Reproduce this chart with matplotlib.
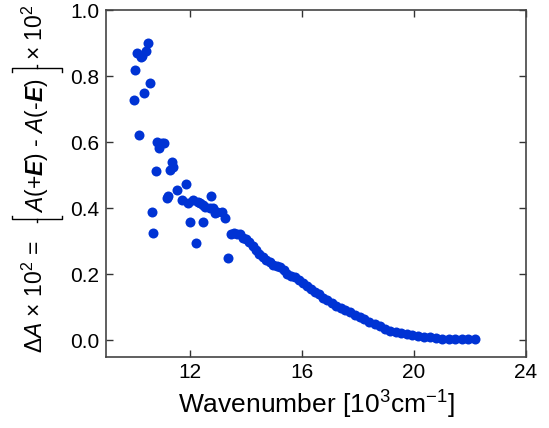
import matplotlib
matplotlib.use("Agg")
import matplotlib.pyplot as plt
from matplotlib.lines import Line2D

plt.rcParams['font.family'] = ['Liberation Sans', 'DejaVu Sans']
plt.rcParams['mathtext.fontset'] = 'custom'
plt.rcParams['mathtext.rm'] = 'Liberation Sans'
plt.rcParams['mathtext.it'] = 'Liberation Sans:italic'
plt.rcParams['mathtext.bf'] = 'Liberation Sans:bold'
plt.rcParams['mathtext.bfit'] = 'Liberation Sans:bold:italic'

# ---- data (wavenumber in 10^3 cm^-1, dA x 10^2) ----
wavenumber = [
    10.00, 10.04, 10.10, 10.18, 10.24, 10.30, 10.36, 10.43, 10.51, 10.57,
    10.63, 10.69, 10.78, 10.83, 10.90, 10.99, 11.07, 11.17, 11.22, 11.29,
    11.35, 11.40, 11.52, 11.70, 11.86, 11.94, 12.00, 12.12, 12.21, 12.29,
    12.36, 12.45, 12.47, 12.54, 12.71, 12.75, 12.83, 12.89, 12.95, 13.13,
    13.25, 13.37,
    13.45, 13.56, 13.67, 13.78, 13.89, 14.00, 14.12, 14.24, 14.36, 14.48,
    14.60, 14.72, 14.84, 14.96, 15.09, 15.22, 15.35, 15.48, 15.61, 15.75,
    15.89, 16.03, 16.17, 16.31, 16.46, 16.61, 16.76, 16.91, 17.07, 17.23,
    17.39, 17.55, 17.72, 17.89, 18.06, 18.23, 18.41, 18.59, 18.77, 18.96,
    19.15, 19.34, 19.54, 19.74, 19.94, 20.15, 20.36, 20.57, 20.79, 21.01,
    21.24, 21.47, 21.70, 21.94, 22.18,
]
delta_A = [
    0.727, 0.818, 0.871, 0.620, 0.857, 0.862, 0.748, 0.877, 0.900, 0.780,
    0.389, 0.323, 0.513, 0.600, 0.581, 0.596, 0.596, 0.429, 0.436, 0.515,
    0.540, 0.525, 0.455, 0.424, 0.473, 0.416, 0.358, 0.424, 0.295, 0.419,
    0.414, 0.359, 0.409, 0.404, 0.399, 0.436, 0.399, 0.384, 0.388, 0.389,
    0.369, 0.250,
    0.320, 0.325, 0.320, 0.322, 0.310, 0.305, 0.298, 0.285, 0.272, 0.262,
    0.252, 0.243, 0.235, 0.228, 0.224, 0.220, 0.212, 0.200, 0.195, 0.190,
    0.183, 0.172, 0.163, 0.155, 0.146, 0.138, 0.128, 0.120, 0.112, 0.104,
    0.096, 0.090, 0.084, 0.077, 0.070, 0.063, 0.056, 0.048, 0.041, 0.034,
    0.028, 0.024, 0.020, 0.018, 0.015, 0.012, 0.010, 0.008, 0.006, 0.004,
    0.003, 0.002, 0.002, 0.002, 0.003,
]
xticks = [12, 16, 20, 24]
xtick_labels = ['12', '16', '20', '24']
yticks = [0.0, 0.2, 0.4, 0.6, 0.8, 1.0]
ytick_labels = ['0.0', '0.2', '0.4', '0.6', '0.8', '1.0']

W, H = 549, 428
fig = plt.figure(figsize=(W / 100, H / 100), dpi=100)
ax = fig.add_axes([106 / W, 1 - 356.5 / H, 420 / W, 346.5 / H])

ax.plot(wavenumber, delta_A, 'o', ms=7.2, color='#0033d4', mec='none')

ax.set_xlim(9, 24)
ax.set_ylim(-0.05, 1.0)
ax.set_xticks(xticks)
ax.set_xticklabels(xtick_labels)
ax.set_yticks(yticks)
ax.set_yticklabels(ytick_labels)
ax.tick_params(direction='in', top=True, right=True, length=4.8, width=1.0,
               color='#333333', labelsize=15)
ax.tick_params(axis='x', pad=5)
ax.tick_params(axis='y', pad=5)
for s in ax.spines.values():
    s.set_color('#444444')
    s.set_linewidth(1.2)

ax.set_xlabel('Wavenumber [10$^3$cm$^{-1}$]', fontsize=19, va='baseline')
ax.xaxis.set_label_coords(0.5, (356.5 - 414) / 346.5)


def fp(px, py):
    return px / W, 1 - py / H


# y label, composed of three rotated pieces and two flat braces
ylab_fs = 16.5
bx = 43
fig.text(*fp(bx, 241), r'$\Delta\mathit{A}$ × 10$^2$ =', rotation=90,
         rotation_mode='anchor', ha='right', va='baseline', fontsize=ylab_fs)
fig.text(*fp(bx, 145.5), r'$\mathit{A}$(+$\mathbfit{E}$) - $\mathit{A}$(-$\mathbfit{E}$)',
         rotation=90, rotation_mode='anchor', ha='center', va='baseline',
         fontsize=ylab_fs)
fig.text(*fp(bx, 59.5), '× 10$^2$', rotation=90, rotation_mode='anchor',
         ha='left', va='baseline', fontsize=ylab_fs)


def brace(y, d):
    pts = [(12, y - d), (12, y), (62, y), (62, y - d)]
    xs, ys = zip(*[fp(*p) for p in pts])
    fig.add_artist(Line2D(xs, ys, color='black', lw=1.0, transform=fig.transFigure))
    mx, my = zip(fp(37, y), fp(37, y + d))
    fig.add_artist(Line2D(mx, my, color='black', lw=1.0, transform=fig.transFigure))


brace(219, 3.5)
brace(68, -3.5)

fig.savefig('out.png', dpi=100)
